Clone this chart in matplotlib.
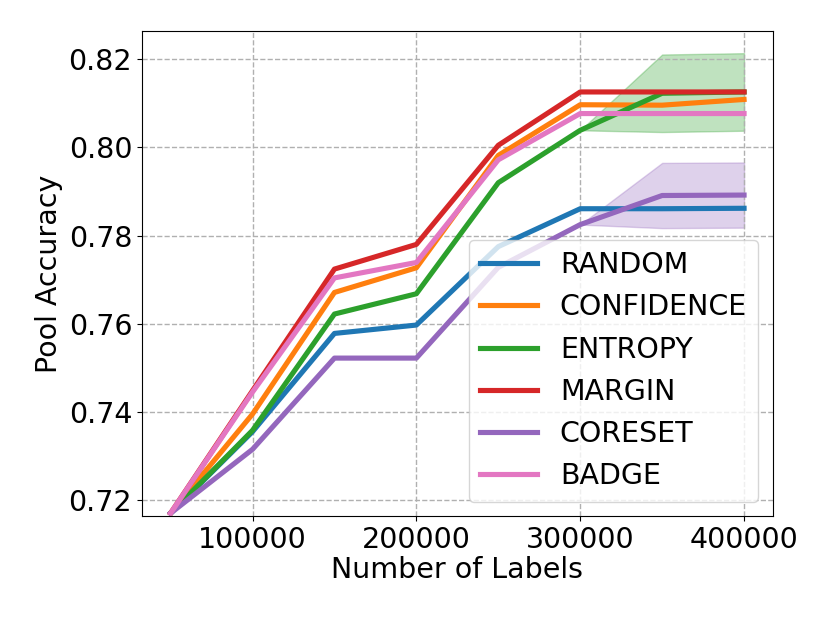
import numpy as np
import matplotlib
matplotlib.use('Agg')
import matplotlib.pyplot as plt

labels_x = [50000, 100000, 150000, 200000, 250000, 300000, 350000, 400000]

strategies = ['RANDOM', 'CONFIDENCE', 'ENTROPY', 'MARGIN', 'CORESET', 'BADGE']

random_acc = [0.7170, 0.7355, 0.7578, 0.7597, 0.7775, 0.7861, 0.7861, 0.7862]
confidence_acc = [0.7170, 0.7395, 0.7671, 0.7727, 0.7982, 0.8097, 0.8096, 0.8109]
entropy_acc = [0.7170, 0.7358, 0.7622, 0.7668, 0.7920, 0.8039, 0.8123, 0.8126]
margin_acc = [0.7170, 0.7448, 0.7724, 0.7780, 0.8005, 0.8126, 0.8126, 0.8126]
coreset_acc = [0.7170, 0.7315, 0.7522, 0.7522, 0.7728, 0.7825, 0.7891, 0.7892]
badge_acc = [0.7170, 0.7445, 0.7704, 0.7739, 0.7972, 0.8077, 0.8077, 0.8077]

# spread over seeds (only entropy and coreset vary)
random_std = [0, 0, 0, 0, 0, 0, 0, 0]
confidence_std = [0, 0, 0, 0, 0, 0, 0, 0]
entropy_std = [0, 0, 0, 0, 0, 0, 0.0088, 0.0088]
margin_std = [0, 0, 0, 0, 0, 0, 0, 0]
coreset_std = [0, 0, 0, 0, 0, 0, 0.0074, 0.0074]
badge_std = [0, 0, 0, 0, 0, 0, 0, 0]

means = [random_acc, confidence_acc, entropy_acc, margin_acc, coreset_acc, badge_acc]
stds = [random_std, confidence_std, entropy_std, margin_std, coreset_std, badge_std]
colors = ['tab:blue', 'tab:orange', 'tab:green', 'tab:red', 'tab:purple', 'tab:pink']

plt.rcParams['font.size'] = 20.5

fig = plt.figure(figsize=(8.3, 6.23), dpi=100)
ax = fig.add_axes([0.171, 0.172, 0.760, 0.778])

x = np.array(labels_x)
for name, m, s, c in zip(strategies, means, stds, colors):
    m = np.array(m)
    s = np.array(s)
    ax.plot(x, m, color=c, linewidth=3.7, label=name)
    if s.any():
        ax.fill_between(x, m - s, m + s, color=c, alpha=0.3)

ax.set_xlim(32500, 417500)
ax.set_ylim(0.7164, 0.8264)
ax.set_xticks([100000, 200000, 300000, 400000])
ax.set_yticks([0.72, 0.74, 0.76, 0.78, 0.80, 0.82])
ax.grid(True, linestyle='--', color='#b0b0b0', linewidth=1.0)
ax.set_xlabel('Number of Labels', labelpad=2)
ax.set_ylabel('Pool Accuracy')
ax.legend(loc='lower right')

fig.savefig('out.png', dpi=100)
